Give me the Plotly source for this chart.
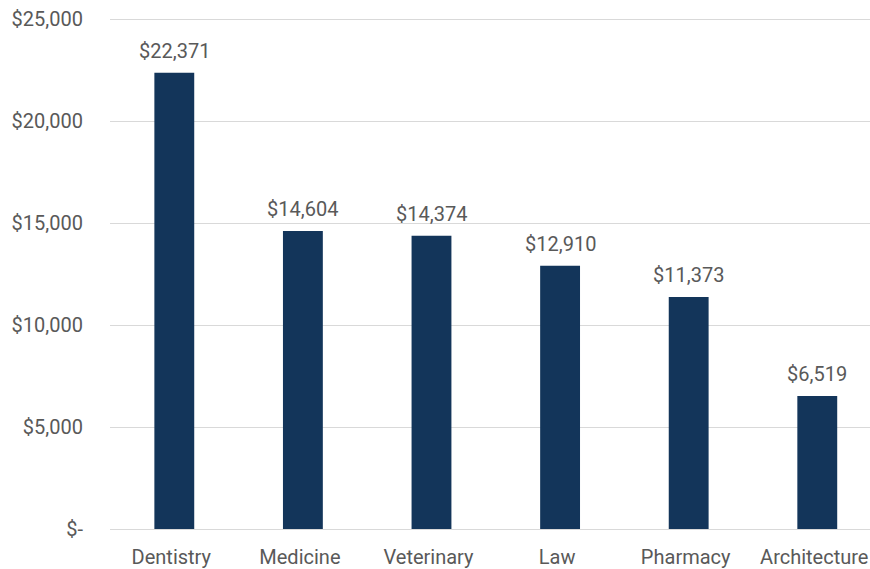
import plotly.graph_objects as go

categories = ["Dentistry", "Medicine", "Veterinary", "Law", "Pharmacy", "Architecture"]
values = [22371, 14604, 14374, 12910, 11373, 6519]
y_tickvals = [0, 5000, 10000, 15000, 20000, 25000]
y_ticktext = ["$-", "$5,000", "$10,000", "$15,000", "$20,000", "$25,000"]

BAR = "#13355A"
TXT = "#595959"
FONT = "Roboto"
FS = 20

fig = go.Figure(go.Bar(
    x=categories, y=values, marker_color=BAR, marker_line_width=0,
    width=0.31,
))

for c, v in zip(categories, values):
    fig.add_annotation(x=c, y=v, text=f"${v:,}", showarrow=False,
                       yanchor="bottom", yshift=8,
                       font=dict(family=FONT, size=FS, color=TXT))

fig.update_layout(
    width=870, height=569,
    margin=dict(l=110, r=0, t=18, b=40),
    paper_bgcolor="white", plot_bgcolor="white",
    showlegend=False,
    font=dict(family=FONT, size=FS, color=TXT),
)
fig.update_xaxes(range=[-0.5, 5.41], showgrid=False, showline=False,
                 automargin=False, ticks="", ticklabelstandoff=14,
                 ticklabelshift=-3, ticklabeloverflow="allow",
                 tickfont=dict(family=FONT, size=FS, color=TXT))
fig.update_yaxes(range=[0, 25050], tickvals=y_tickvals, ticktext=y_ticktext,
                 showgrid=True, gridcolor="#D9D9D9", gridwidth=1,
                 zeroline=True, zerolinecolor="#D9D9D9", zerolinewidth=1,
                 showline=False, ticks="", ticklabelstandoff=26,
                 automargin=False, ticklabeloverflow="allow",
                 tickfont=dict(family=FONT, size=FS, color=TXT))

fig.write_html(
    "out.html",
    config={"displayModeBar": False},
    post_script="document.body.style.margin='0';document.body.style.overflow='hidden';",
)
